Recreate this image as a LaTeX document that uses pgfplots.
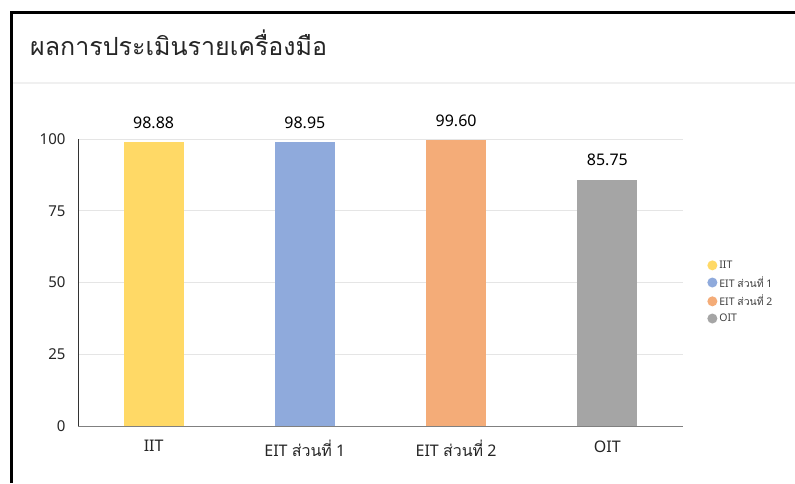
\documentclass[border=0pt]{standalone}
\usepackage{fontspec}
\setmainfont{Noto Sans}
\newfontfamily\thaifont[Script=Thai]{Loma}
\usepackage{pgfplots}
\pgfplotsset{compat=1.18}
\definecolor{cyellow}{HTML}{FFD966}
\definecolor{cblue}{HTML}{8FAADC}
\definecolor{corange}{HTML}{F4AC78}
\definecolor{cgray}{HTML}{A5A5A5}
\begin{document}
\begin{tikzpicture}
\useasboundingbox (0pt,0pt) rectangle (795pt,483pt);
\fill[white] (0pt,0pt) rectangle (795pt,483pt);
\draw[gray!12, line width=1.5pt] (12.5pt,400pt) -- (795pt,400pt);
\draw[black, line width=3pt] (11.5pt,0pt) -- (11.5pt,470pt) -- (795pt,470pt);
\node[anchor=base west, inner sep=0pt, font=\thaifont\fontsize{25}{30}\selectfont, text=black!85] at (30pt,427pt) {ผลการประเมินรายเครื่องมือ};
\begin{axis}[
  at={(78pt,57pt)}, anchor=south west,
  width=605pt, height=287pt, scale only axis,
  ymin=0, ymax=100, xmin=-0.5, xmax=3.5,
  clip=false,
  axis lines*=left,
  x axis line style={draw=black!50, line width=1pt},
  y axis line style={draw=black!80, line width=0.8pt},
  separate axis lines,
  ytick={0,25,50,75,100},
  xtick={0,1,2,3},
  xticklabels={IIT, EIT {\thaifont ส่วนที่} 1, EIT {\thaifont ส่วนที่} 2, OIT},
  xticklabel style={font=\fontsize{16}{19}\selectfont, text=black!85, yshift=-11pt},
  yticklabel style={font=\fontsize{15}{18}\selectfont, text=black!85, xshift=-9pt},
  /pgf/number format/assume math mode=true,
  major tick length=0pt,
  ymajorgrids, grid style={draw=black!10, line width=0.6pt},
  nodes near coords,
  point meta=explicit symbolic,
  nodes near coords style={font=\fontsize{16}{19}\selectfont, text=black, anchor=base, yshift=14pt, inner sep=0pt},
  legend style={draw=none, fill=none, at={(1.035,0.59)}, anchor=north west,
    font=\fontsize{10.5}{13}\selectfont, row sep=2.5pt, text=black!75},
  legend cell align=left,
]
\addplot[ybar, bar width=60pt, bar shift=0pt, fill=cyellow, draw=none,
  legend image code/.code={\fill[cyellow] (3pt,0pt) circle (5pt);}]
  coordinates {(0,98.88)[98.88]};
\addplot[ybar, bar width=60pt, bar shift=0pt, fill=cblue, draw=none,
  legend image code/.code={\fill[cblue] (3pt,0pt) circle (5pt);}]
  coordinates {(1,98.95)[98.95]};
\addplot[ybar, bar width=60pt, bar shift=0pt, fill=corange, draw=none,
  legend image code/.code={\fill[corange] (3pt,0pt) circle (5pt);}]
  coordinates {(2,99.60)[99.60]};
\addplot[ybar, bar width=60pt, bar shift=0pt, fill=cgray, draw=none,
  legend image code/.code={\fill[cgray] (3pt,0pt) circle (5pt);}]
  coordinates {(3,85.75)[85.75]};
\legend{IIT, EIT {\thaifont ส่วนที่} 1, EIT {\thaifont ส่วนที่} 2, OIT}
\end{axis}
\end{tikzpicture}
\end{document}
